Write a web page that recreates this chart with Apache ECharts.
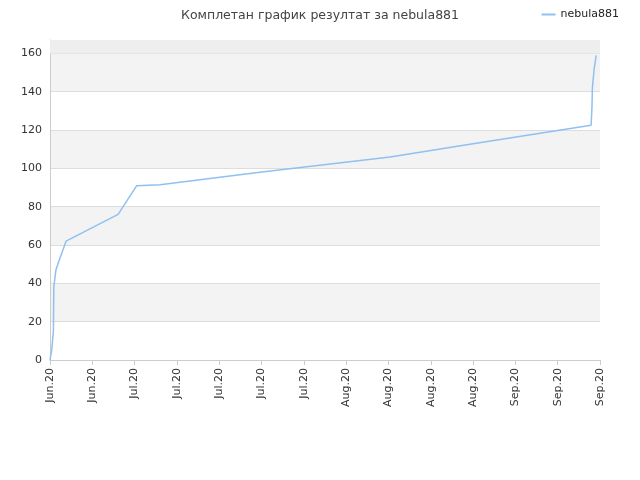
<!DOCTYPE html>
<html><head><meta charset="utf-8">
<script src="https://cdn.jsdelivr.net/npm/echarts@6/dist/echarts.min.js"></script>
</head><body style="margin:0">
<div id="c" style="width:640px;height:480px"></div>
<script>
var tickLabels = ['Jun.20','Jun.20','Jul.20','Jul.20','Jul.20','Jul.20','Jul.20','Aug.20','Aug.20','Aug.20','Aug.20','Sep.20','Sep.20','Sep.20'];
var xPos = [0.0,0.02,0.04,0.08,0.09,0.14,0.2,0.38,1.61,2.05,2.6,4.96,8.04,10.0,12.79,12.81,12.82,12.86,12.91];
var yVals = [0,0,5,15,38,47,51,62,76,91,91.5,98,106,112.8,122.5,131.8,142,151.6,159];
var data = xPos.map(function(x,i){return [x,yVals[i]];});
var chart = echarts.init(document.getElementById('c'));
chart.setOption({
  animation:false,
  title:{text:'Комплетан график резултат за nebula881',left:'center',top:4,textStyle:{fontSize:12.5,fontWeight:'normal',color:'#444',fontFamily:'DejaVu Sans'}},
  legend:{right:16,top:4,itemWidth:14,itemHeight:2,icon:'rect',textStyle:{fontSize:11,color:'#222',fontFamily:'DejaVu Sans'},data:['nebula881']},
  grid:{left:50,right:40,top:40,bottom:120},
  xAxis:{type:'value',min:0,max:13,interval:1,
    axisLine:{lineStyle:{color:'#ccc'}},axisTick:{show:true,lineStyle:{color:'#ccc'}},
    splitLine:{show:false},
    axisLabel:{rotate:90,fontSize:11,color:'#333',fontFamily:'DejaVu Sans',formatter:function(v){return tickLabels[Math.round(v)];}}},
  yAxis:{type:'value',min:0,max:167,interval:20,
    axisLine:{show:true,lineStyle:{color:'#ccc'}},axisTick:{show:false},
    axisLabel:{fontSize:11,color:'#333',fontFamily:'DejaVu Sans',showMaxLabel:false},
    splitLine:{lineStyle:{color:'#ddd'}},
    splitArea:{show:true,areaStyle:{color:['#ffffff','#f3f3f3']}}},
  series:[{name:'nebula881',type:'line',data:data,symbol:'none',lineStyle:{color:'#90c0f0',width:1.5},itemStyle:{color:'#90c0f0'},
    markArea:{silent:true,itemStyle:{color:'#eeeeee'},data:[[{yAxis:160},{yAxis:167}]]}}]
});
</script></body></html>
